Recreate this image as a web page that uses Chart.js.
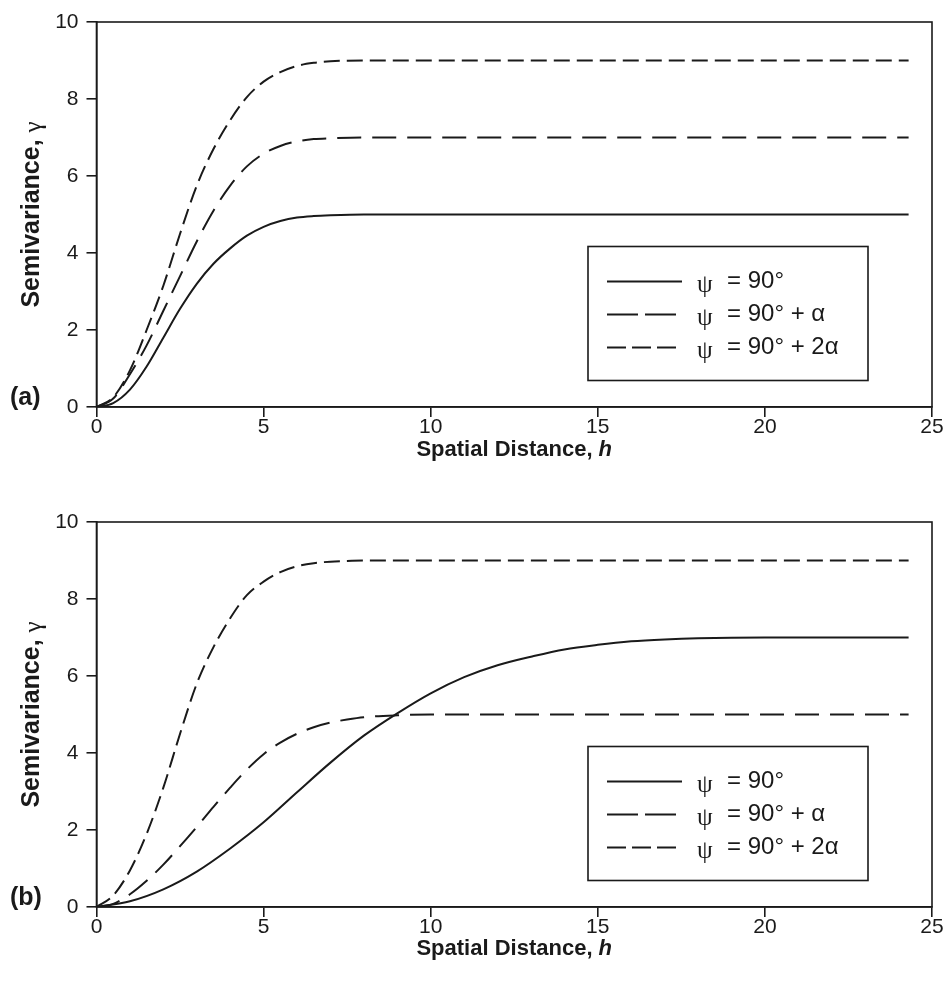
<!DOCTYPE html>
<html>
<head>
<meta charset="utf-8">
<script src="https://cdn.jsdelivr.net/npm/chart.js@4.4.0/dist/chart.umd.min.js"></script>
<style>
  html, body { margin: 0; padding: 0; background: #fff; }
  .panel { position: relative; width: 950px; height: 495px; }
</style>
</head>
<body>
<div class="panel"><canvas id="chartA"></canvas></div>
<div class="panel"><canvas id="chartB"></canvas></div>
<script>
// values
const topH = [0, 0.5, 1, 1.5, 2, 2.5, 3, 3.5, 4, 4.5, 5, 5.5, 6, 6.5, 7, 8, 10, 15, 20, 24.3];
const topSolid = [0, 0.1, 0.45, 1.05, 1.8, 2.55, 3.2, 3.72, 4.12, 4.45, 4.68, 4.83, 4.92, 4.96, 4.98, 5, 5, 5, 5, 5];
const topLong = [0, 0.22, 0.85, 1.6, 2.5, 3.4, 4.3, 5.1, 5.75, 6.25, 6.58, 6.78, 6.9, 6.96, 6.98, 7, 7, 7, 7, 7];
const topShort = [0, 0.25, 0.95, 2.0, 3.15, 4.5, 5.75, 6.7, 7.45, 8.05, 8.45, 8.7, 8.86, 8.94, 8.98, 9, 9, 9, 9, 9];

const botH = [0, 0.5, 1, 1.5, 2, 2.5, 3, 3.5, 4, 4.5, 5, 5.5, 6, 6.5, 7, 7.5, 8, 9, 10, 15, 20, 24.3];
const botLong = [0, 0.08, 0.33, 0.68, 1.1, 1.58, 2.08, 2.6, 3.1, 3.57, 3.97, 4.27, 4.5, 4.67, 4.79, 4.87, 4.93, 4.98, 5, 5, 5, 5];
const botShort = [0, 0.3, 0.95, 1.9, 3.1, 4.5, 5.8, 6.75, 7.5, 8.1, 8.45, 8.7, 8.85, 8.93, 8.97, 8.99, 9, 9, 9, 9, 9, 9];
const botSolidH = [0, 1, 2, 3, 4, 5, 6, 7, 8, 9, 10, 11, 12, 13, 14, 15, 16, 17, 18, 20, 24.3];
const botSolid = [0, 0.15, 0.46, 0.92, 1.52, 2.2, 2.98, 3.75, 4.45, 5.03, 5.55, 5.97, 6.28, 6.5, 6.69, 6.81, 6.9, 6.95, 6.98, 7.0, 7.0];

const xTicks = [0, 5, 10, 15, 20, 25];
const yTicks = [0, 2, 4, 6, 8, 10];
const legendText = ['= 90°', '= 90° + α', '= 90° + 2α'];

const INK = '#1a1a1a';
const SANS = '"Liberation Sans", Arial, sans-serif';
const SERIF = '"Liberation Serif", "DejaVu Serif", serif';
const dashes = [[], [24, 11], [16, 7]];
const legendDashes = [[], [31, 7], [19, 6]];

const toPoints = (h, v) => h.map((x, i) => ({ x: x, y: v[i] }));

// frame, axis titles, panel tag and the boxed legend
const decor = {
  id: 'decor',
  afterDraw(chart, args, opts) {
    const ctx = chart.ctx;
    const a = chart.chartArea;
    ctx.save();
    ctx.strokeStyle = INK;
    ctx.lineWidth = 1.6;
    ctx.strokeRect(a.left, a.top, a.right - a.left, a.bottom - a.top);

    ctx.fillStyle = INK;
    ctx.textBaseline = 'middle';
    ctx.textAlign = 'left';

    // x title
    const xa = 'Spatial Distance, ';
    ctx.font = 'bold 22px ' + SANS;
    const w1 = ctx.measureText(xa).width;
    ctx.font = 'italic bold 22px ' + SANS;
    const w2 = ctx.measureText('h').width;
    const x0 = (a.left + a.right) / 2 - (w1 + w2) / 2;
    const ty = a.bottom + opts.titleGap;
    ctx.font = 'bold 22px ' + SANS;
    ctx.fillText(xa, x0, ty);
    ctx.font = 'italic bold 22px ' + SANS;
    ctx.fillText('h', x0 + w1, ty);

    // y title
    ctx.save();
    ctx.translate(32, (a.top + a.bottom) / 2);
    ctx.rotate(-Math.PI / 2);
    const ya = 'Semivariance, ';
    ctx.font = 'bold 25px ' + SANS;
    const v1 = ctx.measureText(ya).width;
    ctx.font = '25px ' + SERIF;
    const v2 = ctx.measureText('γ').width;
    ctx.font = 'bold 25px ' + SANS;
    ctx.fillText(ya, -(v1 + v2) / 2, 0);
    ctx.font = '25px ' + SERIF;
    ctx.fillText('γ', -(v1 + v2) / 2 + v1, 2);
    ctx.restore();

    // panel tag
    ctx.font = 'bold 25px ' + SANS;
    ctx.fillText(opts.tag, 10, a.bottom - 9);

    // legend box
    const bx = a.left + 491.5, by = a.top + 224.5;
    ctx.lineWidth = 1.6;
    ctx.strokeRect(bx, by, 280, 134);
    chart.data.datasets.forEach((ds, i) => {
      const ry = by + 35 + i * 33;
      ctx.beginPath();
      ctx.setLineDash(legendDashes[i]);
      ctx.lineWidth = 2;
      ctx.moveTo(bx + 19, ry);
      ctx.lineTo(bx + 94, ry);
      ctx.stroke();
      ctx.setLineDash([]);
      ctx.font = '25px ' + SERIF;
      ctx.fillText('ψ', bx + 109, ry + 4);
      ctx.font = '24px ' + SANS;
      ctx.fillText(legendText[i], bx + 139, ry);
    });
    ctx.restore();
  }
};

function makeChart(id, series, tag, padTop, axisH, titleGap) {
  new Chart(document.getElementById(id), {
    type: 'line',
    data: {
      datasets: series.map((s, i) => ({
        data: toPoints(s.h, s.v),
        borderColor: INK,
        borderWidth: 2,
        borderDash: dashes[i],
        pointRadius: 0,
        fill: false,
        cubicInterpolationMode: 'monotone'
      }))
    },
    options: {
      responsive: true,
      maintainAspectRatio: false,
      animation: false,
      layout: { padding: { top: padTop, right: 18, left: 0, bottom: 0 } },
      plugins: {
        legend: { display: false },
        tooltip: { enabled: false },
        decor: { tag: tag, titleGap: titleGap }
      },
      scales: {
        x: {
          type: 'linear',
          min: 0,
          max: 25,
          afterFit: (s) => { s.height = axisH; },
          afterBuildTicks: (s) => { s.ticks = xTicks.map(v => ({ value: v })); },
          ticks: { color: INK, font: { family: SANS, size: 21 }, padding: -2, maxRotation: 0 },
          grid: { drawOnChartArea: false, drawTicks: true, tickLength: 10, color: INK, lineWidth: 1.6 },
          border: { display: true, color: INK, width: 1.6 }
        },
        y: {
          min: 0,
          max: 10,
          afterFit: (s) => { s.width = 96.5; },
          afterBuildTicks: (s) => { s.ticks = yTicks.map(v => ({ value: v })); },
          ticks: { color: INK, font: { family: SANS, size: 21 }, padding: 8 },
          grid: { drawOnChartArea: false, drawTicks: true, tickLength: 10, color: INK, lineWidth: 1.6 },
          border: { display: true, color: INK, width: 1.6 }
        }
      }
    },
    plugins: [decor]
  });
}

makeChart('chartA', [
  { h: topH, v: topSolid },
  { h: topH, v: topLong },
  { h: topH, v: topShort }
], '(a)', 22, 88, 43);

makeChart('chartB', [
  { h: botSolidH, v: botSolid },
  { h: botH, v: botLong },
  { h: botH, v: botShort }
], '(b)', 27, 83, 42);
</script>
</body>
</html>
